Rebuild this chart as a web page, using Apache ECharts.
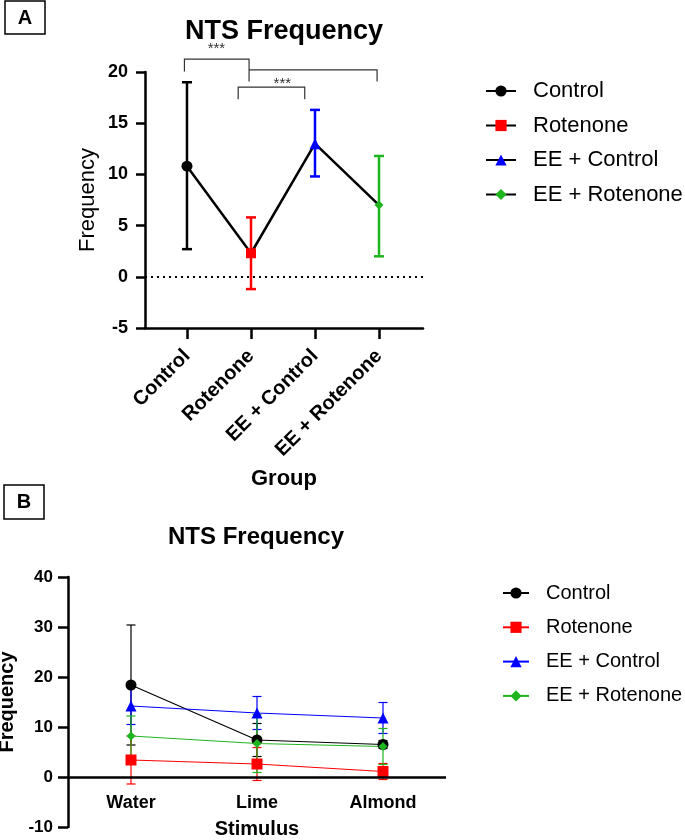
<!DOCTYPE html>
<html>
<head>
<meta charset="utf-8">
<script src="https://cdn.jsdelivr.net/npm/echarts@6/dist/echarts.min.js"></script>
<style>
  html, body { margin: 0; padding: 0; background: #fff; }
  #chart { width: 685px; height: 840px; }
</style>
</head>
<body>
<div id="chart"></div>
<script>
const FONT = '"Liberation Sans", Arial, sans-serif'

// panel A - group means with error range
const groups = ['Control', 'Rotenone', 'EE + Control', 'EE + Rotenone']
const groupMeans = [10.8, 2.3, 13.0, 7.0]
const groupLow = [2.7, -1.2, 9.8, 2.0]
const groupHigh = [19.0, 5.8, 16.3, 11.8]
// significance brackets: [xFrom, xTo, top, leftFoot, rightFoot]
const brackets = [[-0.04, 0.97, 21.26, 20.05, 19.07], [0.97, 2.97, 20.21, 20.21, 19.07], [0.8, 1.84, 18.53, 17.35, 17.35]]
const starMarks = [[0.46, 22.3], [1.49, 18.85]]

// panel B - per stimulus
const stimuli = ['Water', 'Lime', 'Almond']
const ctrlB = [18.4, 7.4, 6.5]
const ctrlErrB = [12.0, 3.3, 0.8]
const rotB = [3.4, 2.6, 1.1]
const rotErrB = [4.8, 3.3, 1.6]
const eeCtrlB = [14.2, 12.8, 11.8]
const eeCtrlErrB = [3.7, 3.3, 3.1]
const eeRotB = [8.2, 6.7, 6.1]
const eeRotErrB = [4.0, 5.8, 3.6]

const groupColors = ['#000000', '#ff0000', '#0000ff', '#1fb51f']
const groupSymbols = ['circle', 'rect', 'triangle', 'diamond']
const symSizeA = [11, 10, 11, 9]
const symSizeB = [11, 11, 11, 9]

const meansB = [ctrlB, rotB, eeCtrlB, eeRotB]
const errsB = [ctrlErrB, rotErrB, eeCtrlErrB, eeRotErrB]

const chart = echarts.init(document.getElementById('chart'))

function errorBars (color, width, cap) {
  return function (params, api) {
    const x = api.value(0)
    const lo = api.coord([x, api.value(1)])
    const hi = api.coord([x, api.value(2)])
    const stroke = color || groupColors[params.dataIndex]
    const st = () => ({ stroke: stroke, lineWidth: width })
    return {
      type: 'group',
      children: [
        { type: 'line', shape: { x1: lo[0], y1: lo[1], x2: hi[0], y2: hi[1] }, style: st() },
        { type: 'line', shape: { x1: lo[0] - cap, y1: lo[1], x2: lo[0] + cap, y2: lo[1] }, style: st() },
        { type: 'line', shape: { x1: hi[0] - cap, y1: hi[1], x2: hi[0] + cap, y2: hi[1] }, style: st() }
      ]
    }
  }
}

const series = []

// A: error bars
series.push({
  type: 'custom',
  xAxisIndex: 0,
  yAxisIndex: 0,
  z: 2,
  renderItem: errorBars(null, 2.5, 5),
  encode: { x: 0, y: [1, 2] },
  data: groups.map((g, i) => [i, groupLow[i], groupHigh[i]])
})
// A: connecting line + dotted zero line
series.push({
  type: 'line',
  name: 'meanA',
  xAxisIndex: 0,
  yAxisIndex: 0,
  z: 3,
  symbol: 'none',
  lineStyle: { color: '#000', width: 2.5 },
  data: groupMeans.map((v, i) => [i, v]),
  markLine: {
    silent: true,
    symbol: 'none',
    label: { show: false },
    lineStyle: { type: [2, 4], color: '#000', width: 2 },
    data: [{ yAxis: 0 }]
  }
})
// A: markers, one series per group for the legend
groups.forEach((g, i) => {
  series.push({
    type: 'line',
    name: g,
    xAxisIndex: 0,
    yAxisIndex: 0,
    z: 4,
    symbol: groupSymbols[i],
    symbolSize: symSizeA[i],
    lineStyle: { color: '#000', width: 2.5 },
    itemStyle: { color: groupColors[i] },
    data: [[i, groupMeans[i]]]
  })
})
// A: significance brackets
series.push({
  type: 'custom',
  xAxisIndex: 0,
  yAxisIndex: 0,
  clip: false,
  silent: true,
  renderItem: (params, api) => {
    const b = brackets[params.dataIndex]
    const pts = [[b[0], b[3]], [b[0], b[2]], [b[1], b[2]], [b[1], b[4]]].map(p => api.coord(p))
    return { type: 'polyline', shape: { points: pts }, style: { stroke: '#333', lineWidth: 1.2, fill: null } }
  },
  encode: { x: [0, 1], y: [2, 3, 4] },
  data: brackets
})
series.push({
  type: 'custom',
  xAxisIndex: 0,
  yAxisIndex: 0,
  clip: false,
  silent: true,
  renderItem: (params, api) => {
    const p = api.coord([api.value(0), api.value(1)])
    return {
      type: 'text',
      x: p[0],
      y: p[1],
      style: { text: '***', fill: '#333', fontSize: 15, fontFamily: FONT, align: 'center', verticalAlign: 'middle' }
    }
  },
  encode: { x: 0, y: 1 },
  data: starMarks
})

// B: error bars and lines
groups.forEach((g, i) => {
  series.push({
    type: 'custom',
    xAxisIndex: 1,
    yAxisIndex: 1,
    z: 2,
    renderItem: errorBars(groupColors[i], 1.2, 4.5),
    encode: { x: 0, y: [1, 2] },
    data: stimuli.map((s, k) => [k, meansB[i][k] - errsB[i][k], meansB[i][k] + errsB[i][k]])
  })
})
groups.forEach((g, i) => {
  const s = {
    type: 'line',
    name: g + ' B',
    xAxisIndex: 1,
    yAxisIndex: 1,
    z: 3,
    symbol: groupSymbols[i],
    symbolSize: symSizeB[i],
    lineStyle: { color: groupColors[i], width: 1.2 },
    itemStyle: { color: groupColors[i] },
    data: meansB[i]
  }
  if (i === 0) {
    // x axis line of panel B sits at zero
    s.markLine = {
      silent: true,
      symbol: 'none',
      label: { show: false },
      lineStyle: { type: 'solid', color: '#000', width: 2.5 },
      data: [{ yAxis: 0 }]
    }
  }
  series.push(s)
})

const boldLabel = size => ({ color: '#000', fontSize: size, fontWeight: 'bold', fontFamily: FONT })

const option = {
  animation: false,
  backgroundColor: '#fff',
  grid: [
    { left: 145, top: 72, width: 278, height: 256, containLabel: false, outerBoundsMode: 'none' },
    { left: 68, top: 577, width: 378, height: 250, containLabel: false, outerBoundsMode: 'none' }
  ],
  xAxis: [
    {
      type: 'value',
      gridIndex: 0,
      min: -0.656,
      max: 3.6875,
      name: 'Group',
      nameLocation: 'middle',
      nameGap: 140,
      nameTextStyle: boldLabel(22),
      axisLine: { onZero: false, lineStyle: { color: '#000', width: 2.5 } },
      axisTick: { show: true, length: 11, customValues: [0, 1, 2, 3], lineStyle: { color: '#000', width: 2.5 } },
      axisLabel: Object.assign(boldLabel(20), {
        rotate: 45,
        margin: 25,
        customValues: [0, 1, 2, 3],
        formatter: v => groups[Math.round(v)]
      }),
      splitLine: { show: false }
    },
    {
      type: 'category',
      gridIndex: 1,
      data: stimuli,
      boundaryGap: true,
      name: 'Stimulus',
      nameLocation: 'middle',
      nameGap: -8,
      nameMoveOverlap: false,
      nameTextStyle: boldLabel(20),
      axisLine: { show: false, onZero: false },
      axisTick: { show: false },
      axisLabel: Object.assign(boldLabel(18), { margin: -33 }),
      splitLine: { show: false }
    }
  ],
  yAxis: [
    {
      type: 'value',
      gridIndex: 0,
      min: -5,
      max: 20,
      interval: 5,
      name: 'Frequency',
      nameLocation: 'middle',
      nameGap: 46,
      nameTextStyle: { color: '#000', fontSize: 22, fontFamily: FONT },
      axisLine: { show: true, onZero: false, lineStyle: { color: '#000', width: 2.5 } },
      axisTick: { show: true, length: 9, lineStyle: { color: '#000', width: 2.5 } },
      axisLabel: Object.assign(boldLabel(18), { margin: 17 }),
      splitLine: { show: false }
    },
    {
      type: 'value',
      gridIndex: 1,
      min: -10,
      max: 40,
      interval: 10,
      name: 'Frequency',
      nameLocation: 'middle',
      nameGap: 45,
      nameTextStyle: boldLabel(20),
      axisLine: { show: true, onZero: false, lineStyle: { color: '#000', width: 2.5 } },
      axisTick: { show: true, length: 10, lineStyle: { color: '#000', width: 2.5 } },
      axisLabel: Object.assign(boldLabel(17), { margin: 15 }),
      splitLine: { show: false }
    }
  ],
  legend: [
    {
      orient: 'vertical',
      left: 485,
      top: 79,
      padding: 0,
      itemWidth: 30,
      itemHeight: 14,
      itemGap: 10.5,
      selectedMode: false,
      data: groups,
      textStyle: { color: '#000', fontSize: 22, fontFamily: FONT, lineHeight: 24, padding: [0, 0, 0, 12] }
    },
    {
      orient: 'vertical',
      left: 502,
      top: 581,
      padding: 0,
      itemWidth: 26,
      itemHeight: 14,
      itemGap: 10.3,
      selectedMode: false,
      data: groups.map(g => g + ' B'),
      formatter: name => name.replace(/ B$/, ''),
      textStyle: { color: '#000', fontSize: 20, fontFamily: FONT, lineHeight: 24, padding: [0, 0, 0, 12] }
    }
  ],
  graphic: [
    { type: 'rect', shape: { x: 5, y: 1, width: 40, height: 33 }, style: { fill: '#fff', stroke: '#000', lineWidth: 1.5 } },
    { type: 'text', x: 25, y: 18, style: { text: 'A', fill: '#000', fontSize: 20, fontWeight: 'bold', fontFamily: FONT, align: 'center', verticalAlign: 'middle' } },
    { type: 'rect', shape: { x: 4, y: 485, width: 40, height: 34 }, style: { fill: '#fff', stroke: '#000', lineWidth: 1.5 } },
    { type: 'text', x: 24, y: 502, style: { text: 'B', fill: '#000', fontSize: 20, fontWeight: 'bold', fontFamily: FONT, align: 'center', verticalAlign: 'middle' } },
    { type: 'text', x: 284, y: 32, style: { text: 'NTS Frequency', fill: '#000', fontSize: 27, fontWeight: 'bold', fontFamily: FONT, align: 'center', verticalAlign: 'middle' } },
    { type: 'text', x: 256, y: 537, style: { text: 'NTS Frequency', fill: '#000', fontSize: 24, fontWeight: 'bold', fontFamily: FONT, align: 'center', verticalAlign: 'middle' } }
  ],
  series: series
}

chart.setOption(option)
</script>
</body>
</html>
